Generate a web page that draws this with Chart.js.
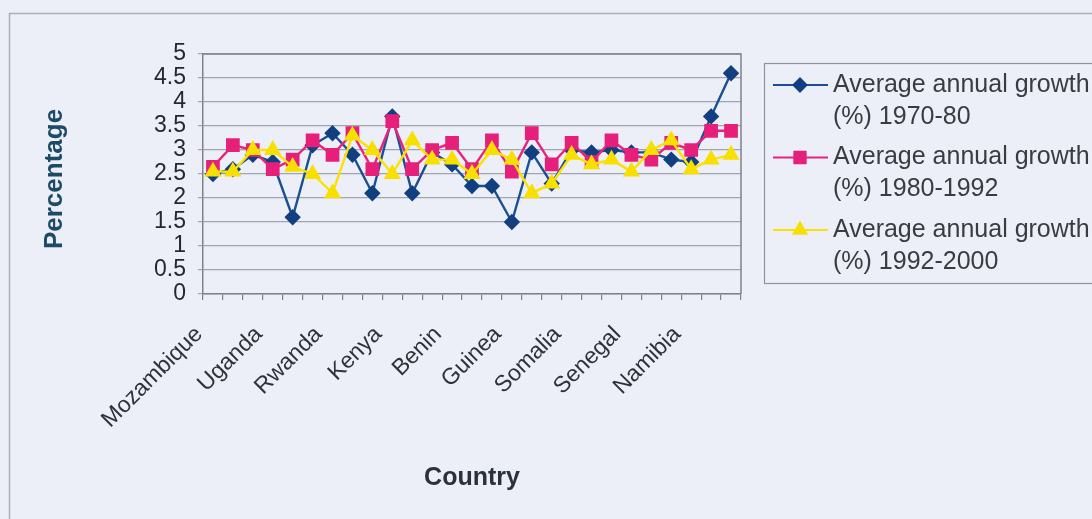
<!DOCTYPE html>
<html>
<head>
<meta charset="utf-8">
<script src="https://cdn.jsdelivr.net/npm/chart.js@4.4.1/dist/chart.umd.min.js"></script>
<style>
  html, body { margin: 0; padding: 0; background: #eceef8; }
  #wrap { width: 1092px; height: 519px; position: relative; }
</style>
</head>
<body>
<div id="wrap"><canvas id="c"></canvas></div>
<script>
// Countries along the x axis; only every third one carries a printed name
const categories = [
  'Mozambique', '', '', 'Uganda', '', '', 'Rwanda', '', '', 'Kenya', '', '',
  'Benin', '', '', 'Guinea', '', '', 'Somalia', '', '', 'Senegal', '', '',
  'Namibia', '', ''
];

const seriesNames = [
  ['Average annual growth', '(%) 1970-80'],
  ['Average annual growth', '(%) 1980-1992'],
  ['Average annual growth', '(%) 1992-2000']
];

// Average annual growth (%)
const growth1970s = [2.5, 2.6, 2.9, 2.75, 1.6, 3.1, 3.35, 2.9, 2.1, 3.7, 2.1, 2.95, 2.7, 2.25, 2.25, 1.5, 2.95, 2.3, 3.0, 2.95, 3.0, 2.95, 2.95, 2.8, 2.75, 3.7, 4.6];
const growth1980s = [2.65, 3.1, 3.0, 2.6, 2.8, 3.2, 2.9, 3.35, 2.6, 3.6, 2.6, 3.0, 3.15, 2.6, 3.2, 2.55, 3.35, 2.7, 3.15, 2.75, 3.2, 2.9, 2.8, 3.15, 3.0, 3.4, 3.4];
const growth1990s = [2.55, 2.55, 3.0, 3.0, 2.65, 2.5, 2.1, 3.3, 3.0, 2.5, 3.2, 2.8, 2.8, 2.5, 3.0, 2.8, 2.1, 2.3, 2.9, 2.7, 2.8, 2.55, 3.0, 3.2, 2.6, 2.8, 2.9];

const yMin = 0, yMax = 5, yStep = 0.5;
const xTitle = 'Country';
const yTitle = 'Percentage';

const FONT = '"Liberation Sans", Arial, Helvetica, sans-serif';
const AXIS = '#7d838a';
const GRID = '#9ea5ad';

// Background, outer frame and plot-area border
const framePlugin = {
  id: 'frame',
  beforeDraw(chart) {
    const ctx = chart.ctx;
    ctx.save();
    ctx.fillStyle = '#eceef8';
    ctx.fillRect(0, 0, chart.width, chart.height);
    ctx.strokeStyle = '#a9b1b9';
    ctx.lineWidth = 1.5;
    ctx.beginPath();
    ctx.moveTo(9.5, chart.height);
    ctx.lineTo(9.5, 13.5);
    ctx.lineTo(chart.width, 13.5);
    ctx.stroke();
    ctx.restore();
  },
  beforeDatasetsDraw(chart) {
    const { ctx, chartArea: a } = chart;
    ctx.save();
    ctx.strokeStyle = AXIS;
    ctx.lineWidth = 1.5;
    ctx.beginPath();
    ctx.moveTo(a.left, a.top);
    ctx.lineTo(a.right, a.top);
    ctx.lineTo(a.right, a.bottom);
    ctx.stroke();
    ctx.restore();
  }
};

// Vertical y-axis title, placed slightly below the plot's middle
const yTitlePlugin = {
  id: 'yTitle',
  afterDraw(chart) {
    const ctx = chart.ctx;
    ctx.save();
    ctx.fillStyle = '#1d4a66';
    ctx.font = 'bold 26px ' + FONT;
    ctx.textAlign = 'center';
    ctx.textBaseline = 'middle';
    ctx.translate(55, 179);
    ctx.rotate(-Math.PI / 2);
    ctx.fillText(yTitle, 0, 0);
    ctx.restore();
  }
};

// Boxed legend with two-line entries
const legendPlugin = {
  id: 'boxLegend',
  afterDraw(chart) {
    const ctx = chart.ctx;
    ctx.save();
    ctx.strokeStyle = '#8f959c';
    ctx.lineWidth = 1.2;
    ctx.strokeRect(764.5, 63.5, 420, 220);
    chart.data.datasets.forEach((ds, i) => {
      const y = 85 + i * 72.5;
      ctx.strokeStyle = ds.borderColor;
      ctx.lineWidth = 2;
      ctx.beginPath();
      ctx.moveTo(773, y);
      ctx.lineTo(828, y);
      ctx.stroke();
      ctx.fillStyle = ds.pointBackgroundColor;
      ctx.strokeStyle = ds.pointBorderColor;
      Chart.helpers.drawPoint(ctx, {
        pointStyle: ds.pointStyle, radius: ds.pointRadius, borderWidth: 1, rotation: 0
      }, 800, y);
      ctx.fillStyle = '#3a3c40';
      ctx.font = '25px ' + FONT;
      ctx.textBaseline = 'middle';
      ctx.textAlign = 'left';
      seriesNames[i].forEach((line, k) => ctx.fillText(line, 833, y + k * 32));
    });
    ctx.restore();
  }
};

new Chart(document.getElementById('c'), {
  type: 'line',
  data: {
    labels: categories,
    datasets: [
      {
        label: seriesNames[0].join(' '), data: growth1970s, order: 3,
        borderColor: '#1b4f93', backgroundColor: '#1b4f93',
        pointBackgroundColor: '#123f80', pointBorderColor: '#123f80',
        pointStyle: 'rectRot', pointRadius: 6.5, borderWidth: 2.4
      },
      {
        label: seriesNames[1].join(' '), data: growth1980s, order: 2,
        borderColor: '#e8237c', backgroundColor: '#e8237c',
        pointBackgroundColor: '#e6207a', pointBorderColor: '#e6207a',
        pointStyle: 'rect', pointRadius: 8, borderWidth: 2.4
      },
      {
        label: seriesNames[2].join(' '), data: growth1990s, order: 1,
        borderColor: '#fbe200', backgroundColor: '#fbe200',
        pointBackgroundColor: '#f7e000', pointBorderColor: '#f7e000',
        pointStyle: 'triangle', pointRadius: 7.5, borderWidth: 2.4
      }
    ]
  },
  options: {
    responsive: true,
    maintainAspectRatio: false,
    animation: false,
    layout: { padding: { left: 0, top: 54, right: 1092 - 741, bottom: 0 } },
    elements: { line: { tension: 0 } },
    plugins: { legend: { display: false }, tooltip: { enabled: false } },
    scales: {
      x: {
        type: 'category',
        offset: true,
        grid: { offset: true, drawOnChartArea: false, drawTicks: true, tickLength: 6, color: AXIS, lineWidth: 1.2 },
        border: { color: AXIS, width: 1.5 },
        ticks: {
          autoSkip: false, minRotation: 45, maxRotation: 45,
          labelOffset: -14, padding: 21,
          color: '#2f3338', font: { family: FONT, size: 23 }
        },
        title: {
          display: true, text: xTitle, color: '#2b3138',
          font: { family: FONT, size: 25, weight: 'bold' },
          padding: { top: 0, bottom: 26 }
        },
        afterFit: s => { s.height = 519 - 294; }
      },
      y: {
        min: yMin,
        max: yMax,
        ticks: {
          stepSize: yStep, autoSkip: false, padding: 12, color: '#25282c',
          font: { family: FONT, size: 23 },
          callback: v => String(v)
        },
        grid: { color: GRID, lineWidth: 1.2, tickLength: 5 },
        border: { color: AXIS, width: 1.5 },
        afterFit: s => { s.width = 203; }
      }
    }
  },
  plugins: [framePlugin, yTitlePlugin, legendPlugin]
});
</script>
</body>
</html>
